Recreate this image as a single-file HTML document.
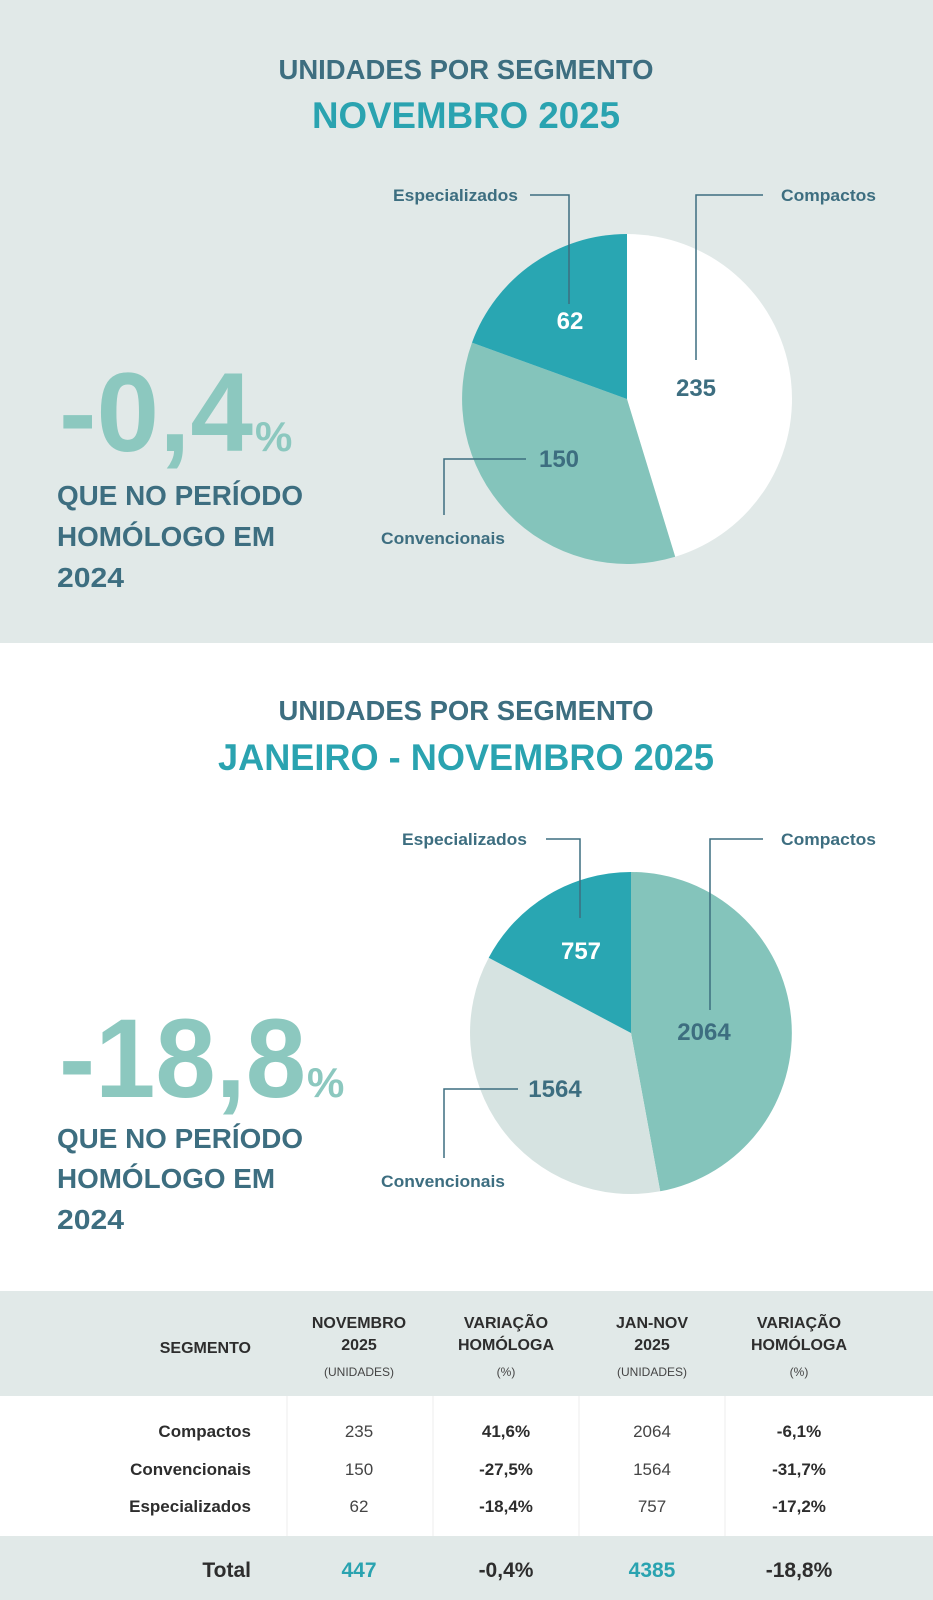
<!DOCTYPE html>
<html><head><meta charset="utf-8"><style>
html,body{margin:0;padding:0;width:933px;height:1600px;overflow:hidden;background:#fff}
svg{display:block}
text{font-family:"Liberation Sans",sans-serif}
</style></head><body>
<svg width="933" height="1600" viewBox="0 0 933 1600" xmlns="http://www.w3.org/2000/svg">
<rect x="0" y="0" width="933" height="643" fill="#e1e9e8"/>
<rect x="0" y="1291" width="933" height="105" fill="#e1e9e8"/>
<rect x="0" y="1536" width="933" height="64" fill="#e1e9e8"/>

<!-- Section 1 -->
<text x="466" y="79" text-anchor="middle" font-size="28" font-weight="bold" fill="#3d6e80" textLength="375" lengthAdjust="spacingAndGlyphs">UNIDADES POR SEGMENTO</text>
<text x="466" y="128" text-anchor="middle" font-size="37" font-weight="bold" fill="#2aa3b0" textLength="308" lengthAdjust="spacingAndGlyphs">NOVEMBRO 2025</text>

<g transform="translate(627,399)">
<path d="M0,0 L0,-165 A165,165 0 0,1 48.2,157.8 Z" fill="#ffffff"/>
<path d="M0,0 L48.2,157.8 A165,165 0 0,1 -155,-56.4 Z" fill="#84c4bb"/>
<path d="M0,0 L-155,-56.4 A165,165 0 0,1 0,-165 Z" fill="#29a6b2"/>
</g>
<g stroke="#3d6e80" stroke-width="1.5" fill="none">
<polyline points="530,195 569,195 569,304"/>
<polyline points="763,195 696,195 696,360"/>
<polyline points="444,515 444,459 526,459"/>
</g>
<g font-size="17" font-weight="bold" fill="#3d6e80">
<text x="518" y="201" text-anchor="end" textLength="125" lengthAdjust="spacingAndGlyphs">Especializados</text>
<text x="781" y="201" textLength="95" lengthAdjust="spacingAndGlyphs">Compactos</text>
<text x="381" y="544" textLength="124" lengthAdjust="spacingAndGlyphs">Convencionais</text>
</g>
<text x="570" y="329" text-anchor="middle" font-size="24" font-weight="bold" fill="#fff">62</text>
<text x="696" y="396" text-anchor="middle" font-size="24" font-weight="bold" fill="#3d6e80">235</text>
<text x="559" y="467" text-anchor="middle" font-size="24" font-weight="bold" fill="#3d6e80">150</text>

<text x="59" y="451" font-size="112" font-weight="bold" fill="#8cc8bf" textLength="194" lengthAdjust="spacingAndGlyphs">-0,4</text>
<text x="255" y="451" font-size="42" font-weight="bold" fill="#8cc8bf">%</text>
<g font-size="28" font-weight="bold" fill="#3d6e80">
<text x="57" y="505" textLength="246" lengthAdjust="spacingAndGlyphs">QUE NO PERÍODO</text>
<text x="57" y="546" textLength="218" lengthAdjust="spacingAndGlyphs">HOMÓLOGO EM</text>
<text x="57" y="587" textLength="67" lengthAdjust="spacingAndGlyphs">2024</text>
</g>

<!-- Section 2 -->
<text x="466" y="720" text-anchor="middle" font-size="28" font-weight="bold" fill="#3d6e80" textLength="375" lengthAdjust="spacingAndGlyphs">UNIDADES POR SEGMENTO</text>
<text x="466" y="770" text-anchor="middle" font-size="37" font-weight="bold" fill="#2aa3b0" textLength="496" lengthAdjust="spacingAndGlyphs">JANEIRO - NOVEMBRO 2025</text>

<g transform="translate(631,1033)">
<path d="M0,0 L0,-161 A161,161 0 0,1 29.2,158.3 Z" fill="#84c4bb"/>
<path d="M0,0 L29.2,158.3 A161,161 0 0,1 -142.3,-75.3 Z" fill="#d6e3e1"/>
<path d="M0,0 L-142.3,-75.3 A161,161 0 0,1 0,-161 Z" fill="#29a6b2"/>
</g>
<g stroke="#3d6e80" stroke-width="1.5" fill="none">
<polyline points="546,839 580,839 580,918"/>
<polyline points="763,839 710,839 710,1010"/>
<polyline points="444,1158 444,1089 518,1089"/>
</g>
<g font-size="17" font-weight="bold" fill="#3d6e80">
<text x="527" y="845" text-anchor="end" textLength="125" lengthAdjust="spacingAndGlyphs">Especializados</text>
<text x="781" y="845" textLength="95" lengthAdjust="spacingAndGlyphs">Compactos</text>
<text x="381" y="1187" textLength="124" lengthAdjust="spacingAndGlyphs">Convencionais</text>
</g>
<text x="581" y="959" text-anchor="middle" font-size="24" font-weight="bold" fill="#fff">757</text>
<text x="704" y="1040" text-anchor="middle" font-size="24" font-weight="bold" fill="#3d6e80">2064</text>
<text x="555" y="1097" text-anchor="middle" font-size="24" font-weight="bold" fill="#3d6e80">1564</text>

<text x="59" y="1097" font-size="112" font-weight="bold" fill="#8cc8bf" textLength="247" lengthAdjust="spacingAndGlyphs">-18,8</text>
<text x="307" y="1097" font-size="42" font-weight="bold" fill="#8cc8bf">%</text>
<g font-size="28" font-weight="bold" fill="#3d6e80">
<text x="57" y="1148" textLength="246" lengthAdjust="spacingAndGlyphs">QUE NO PERÍODO</text>
<text x="57" y="1188" textLength="218" lengthAdjust="spacingAndGlyphs">HOMÓLOGO EM</text>
<text x="57" y="1229" textLength="67" lengthAdjust="spacingAndGlyphs">2024</text>
</g>

<!-- Table -->
<g stroke="#ececec" stroke-width="1">
<line x1="287" y1="1396" x2="287" y2="1536"/>
<line x1="433" y1="1396" x2="433" y2="1536"/>
<line x1="579" y1="1396" x2="579" y2="1536"/>
<line x1="725" y1="1396" x2="725" y2="1536"/>
</g>
<g font-size="16" font-weight="bold" fill="#2d2d2d" text-anchor="middle">
<text x="251" y="1353" text-anchor="end">SEGMENTO</text>
<text x="359" y="1328">NOVEMBRO</text><text x="359" y="1350">2025</text>
<text x="506" y="1328">VARIAÇÃO</text><text x="506" y="1350">HOMÓLOGA</text>
<text x="652" y="1328">JAN-NOV</text><text x="652" y="1350">2025</text>
<text x="799" y="1328">VARIAÇÃO</text><text x="799" y="1350">HOMÓLOGA</text>
</g>
<g font-size="12" fill="#444" text-anchor="middle">
<text x="359" y="1376">(UNIDADES)</text><text x="506" y="1376">(%)</text>
<text x="652" y="1376">(UNIDADES)</text><text x="799" y="1376">(%)</text>
</g>
<g font-size="17" fill="#2d2d2d">
<g font-weight="bold" text-anchor="end">
<text x="251" y="1437">Compactos</text><text x="251" y="1475">Convencionais</text><text x="251" y="1512">Especializados</text>
</g>
<g text-anchor="middle" fill="#444">
<text x="359" y="1437">235</text><text x="359" y="1475">150</text><text x="359" y="1512">62</text>
<text x="652" y="1437">2064</text><text x="652" y="1475">1564</text><text x="652" y="1512">757</text>
</g>
<g text-anchor="middle" font-weight="bold">
<text x="506" y="1437">41,6%</text><text x="506" y="1475">-27,5%</text><text x="506" y="1512">-18,4%</text>
<text x="799" y="1437">-6,1%</text><text x="799" y="1475">-31,7%</text><text x="799" y="1512">-17,2%</text>
</g>
</g>
<g font-size="21" font-weight="bold" text-anchor="middle">
<text x="251" y="1577" text-anchor="end" fill="#2d2d2d">Total</text>
<text x="359" y="1577" fill="#2aa3b0">447</text>
<text x="506" y="1577" fill="#2d2d2d">-0,4%</text>
<text x="652" y="1577" fill="#2aa3b0">4385</text>
<text x="799" y="1577" fill="#2d2d2d">-18,8%</text>
</g>
</svg>
</body></html>
